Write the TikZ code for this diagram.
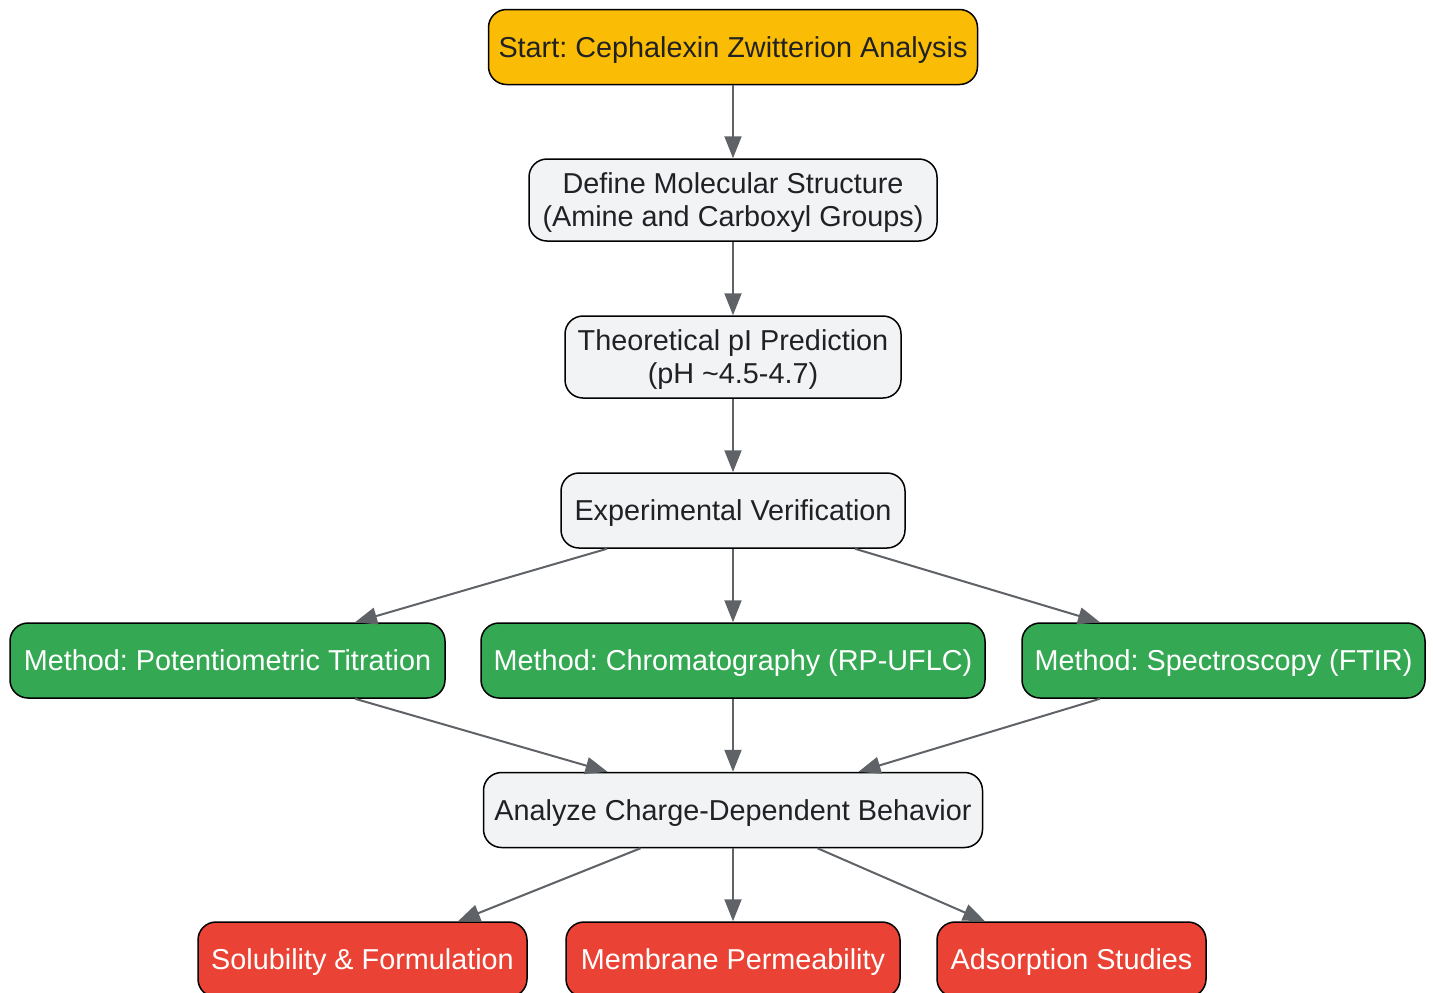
\documentclass[tikz,border=0pt]{standalone}
\usepackage{fontspec}
\setmainfont{Liberation Sans}
\usetikzlibrary{arrows.meta,calc}
\frenchspacing

\definecolor{startyellow}{HTML}{FBBC05}
\definecolor{stepgray}{HTML}{F1F3F4}
\definecolor{methodgreen}{HTML}{34A853}
\definecolor{outred}{HTML}{EA4335}
\definecolor{linkgray}{HTML}{5F6368}
\definecolor{textdark}{HTML}{202124}

\tikzset{
    box/.style={draw=black, line width=0.75pt, rounded corners=9pt, align=center,
        inner xsep=5pt, inner ysep=4pt, minimum height=37.5pt,
        text height=13pt, text depth=3pt,
        font=\fontsize{14.4}{16.5}\selectfont},
    twoline/.style={text height=29.5pt, minimum height=41pt},
    startbox/.style={box, fill=startyellow, text=textdark},
    stepbox/.style={box, fill=stepgray, text=textdark},
    methodbox/.style={box, fill=methodgreen, text=white},
    outbox/.style={box, fill=outred, text=white},
    link/.style={draw=linkgray, line width=1pt, -{Triangle[length=11pt,width=8.5pt]}}
}

\begin{document}
\begin{tikzpicture}[x=0.5pt, y=-0.5pt]
    \useasboundingbox (0,0) rectangle (1433,992);

    % main line
    \node[startbox, minimum width=244.5pt] (start) at (733,47) {Start: Cephalexin Zwitterion Analysis};
    \node[stepbox, twoline, minimum width=204pt] (define) at (733,200) {Define Molecular Structure\\(Amine and Carboxyl Groups)};
    \node[stepbox, twoline, minimum width=168pt] (theory) at (733,357) {Theoretical pI Prediction\\(pH \textasciitilde4.5-4.7)};
    \node[stepbox, minimum width=172pt] (verify) at (733,510.5) {Experimental Verification};

    % methods
    \node[methodbox, minimum width=217.5pt] (titration) at (227.5,660.5) {Method: Potentiometric Titration};
    \node[methodbox, minimum width=252pt] (chroma) at (733,660.5) {Method: Chromatography (RP-UFLC)};
    \node[methodbox, minimum width=201.5pt] (ftir) at (1223.5,660.5) {Method: Spectroscopy (FTIR)};

    \node[stepbox, minimum width=249.5pt] (analyze) at (733,810) {Analyze Charge-Dependent Behavior};

    % outcomes
    \node[outbox, minimum width=164.5pt] (solub) at (362.5,959.5) {Solubility \& Formulation};
    \node[outbox, minimum width=167pt] (membrane) at (733,959.5) {Membrane Permeability};
    \node[outbox, minimum width=134.5pt] (adsorb) at (1071.5,959.5) {Adsorption Studies};

    \draw[link] (start) -- (define);
    \draw[link] (define) -- (theory);
    \draw[link] (theory) -- (verify);

    \draw[link] ([xshift=-63pt]verify.south) -- ([xshift=63.75pt]titration.north);
    \draw[link] (verify) -- (chroma);
    \draw[link] ([xshift=61pt]verify.south) -- ([xshift=-61.75pt]ftir.north);

    \draw[link] ([xshift=63.75pt]titration.south) -- ([xshift=-62.75pt]analyze.north);
    \draw[link] (chroma) -- (analyze);
    \draw[link] ([xshift=-61.75pt]ftir.south) -- ([xshift=62.75pt]analyze.north);

    \draw[link] ([xshift=-46.25pt]analyze.south) -- ([xshift=47.75pt]solub.north);
    \draw[link] (analyze) -- (membrane);
    \draw[link] ([xshift=42.25pt]analyze.south) -- ([xshift=-43.25pt]adsorb.north);
\end{tikzpicture}
\end{document}
